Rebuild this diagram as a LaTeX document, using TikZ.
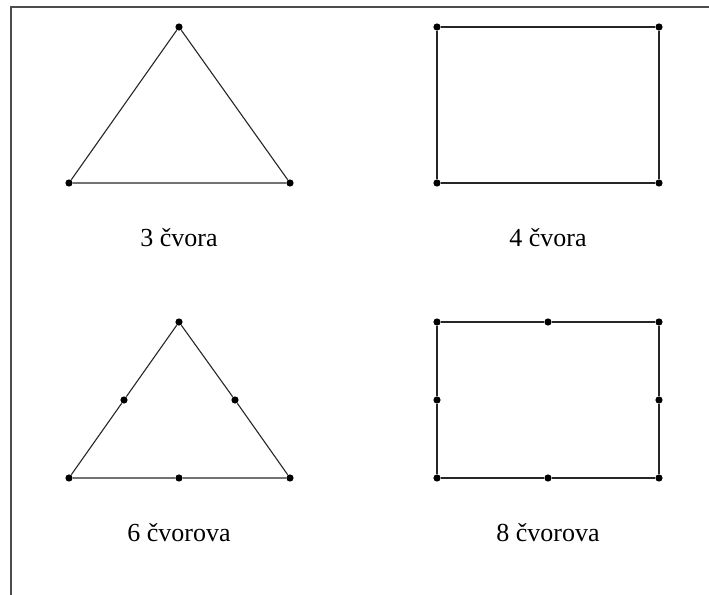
\documentclass[tikz,border=0pt]{standalone}
\usepackage{fontspec}
\setmainfont{Liberation Serif}
\usepackage{tikz}

\begin{document}
\begin{tikzpicture}[
  x=0.5pt, y=-0.5pt,
  dot/.style={circle, fill=black, inner sep=0pt, minimum size=3.6pt},
  edge/.style={line width=0.55pt, draw=black!85},
  caption/.style={anchor=base, font=\fontsize{13}{15}\selectfont}
]
\useasboundingbox (0,0) rectangle (709,595);
% frame (top and left only)
\draw[edge, draw=black!70] (11,595) -- (11,7) -- (709,7);

% 3 vertices
\node[dot] (ta) at (179,27)  {};
\node[dot] (tb) at (69,183)  {};
\node[dot] (tc) at (290,183) {};
\draw[edge] (ta) -- (tb) -- (tc) -- (ta);
\node[caption] (lab3) at (179,246) {3 čvora};

% 4 vertices
\node[dot] (ra) at (437,27)  {};
\node[dot] (rb) at (659,27)  {};
\node[dot] (rc) at (659,183) {};
\node[dot] (rd) at (437,183) {};
\draw[edge] (ra) -- (rb) -- (rc) -- (rd) -- (ra);
\node[caption] (lab4) at (548,246) {4 čvora};

% 6 vertices
\node[dot] (sa) at (179,322) {};
\node[dot] (sb) at (235,400) {};
\node[dot] (sc) at (290,478) {};
\node[dot] (sd) at (179,478) {};
\node[dot] (se) at (69,478)  {};
\node[dot] (sf) at (124,400) {};
\draw[edge] (sa) -- (sb) -- (sc) -- (sd) -- (se) -- (sf) -- (sa);
\node[caption] (lab6) at (179,541) {6 čvorova};

% 8 vertices
\node[dot] (qa) at (437,322) {};
\node[dot] (qb) at (548,322) {};
\node[dot] (qc) at (659,322) {};
\node[dot] (qd) at (659,400) {};
\node[dot] (qe) at (659,478) {};
\node[dot] (qf) at (548,478) {};
\node[dot] (qg) at (437,478) {};
\node[dot] (qh) at (437,400) {};
\draw[edge] (qa) -- (qb) -- (qc) -- (qd) -- (qe) -- (qf) -- (qg) -- (qh) -- (qa);
\node[caption] (lab8) at (548,541) {8 čvorova};
\end{tikzpicture}
\end{document}
